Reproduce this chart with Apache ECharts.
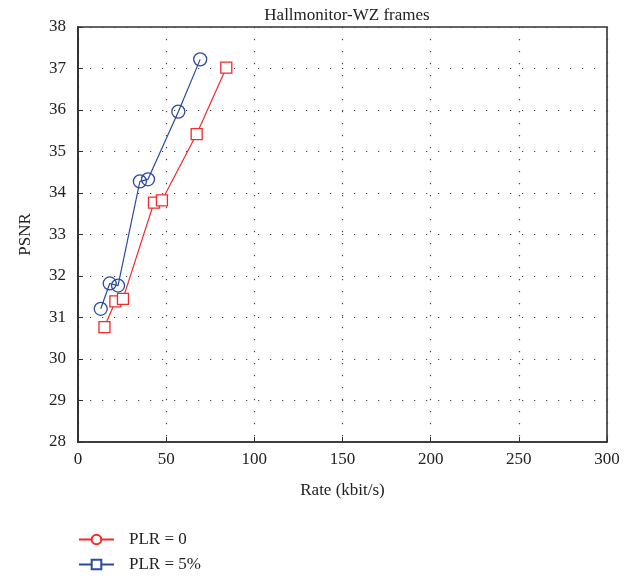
<!DOCTYPE html>
<html>
<head>
<meta charset="utf-8">
<script src="https://cdn.jsdelivr.net/npm/echarts@6/dist/echarts.min.js"></script>
<style>
  html, body { margin: 0; padding: 0; background: #fff; }
  #chart { width: 637px; height: 581px; }
</style>
</head>
<body>
<div id="chart"></div>
<script>
// Rate (kbit/s) vs PSNR for the Hallmonitor Wyner-Ziv frames
const rateLossless = [15.0, 21.2, 25.5, 43.1, 47.6, 67.3, 84.1];
const psnrLossless = [30.77, 31.39, 31.45, 33.77, 33.82, 35.42, 37.02];
const rateLoss5 = [12.9, 18.0, 22.7, 35.1, 39.7, 56.9, 69.3];
const psnrLoss5 = [31.21, 31.82, 31.77, 34.28, 34.33, 35.96, 37.22];
const legendNames = ['PLR = 0', 'PLR = 5%'];

const RED = '#f22a2a';
const BLUE = '#2d4a9e';
const FONT = '"Liberation Serif", "DejaVu Serif", serif';

const pairs = (xs, ys) => xs.map((x, i) => [x, ys[i]]);

const chart = echarts.init(document.getElementById('chart'), null, { renderer: 'canvas' });

const dotted = { color: '#444', width: 1.2, type: [1.2, 10.8] };

chart.setOption({
  backgroundColor: '#fff',
  animation: false,
  title: {
    text: 'Hallmonitor-WZ frames',
    left: 342,
    textAlign: 'center',
    top: 2,
    textStyle: { fontFamily: FONT, fontSize: 17, fontWeight: 'normal', color: '#222' }
  },
  grid: {
    left: 78, right: 30, top: 27, bottom: 139,
    show: true, borderColor: '#333', borderWidth: 1.6, backgroundColor: 'transparent'
  },
  legend: {
    orient: 'vertical',
    left: 78,
    top: 531,
    padding: 0,
    itemWidth: 35,
    itemHeight: 12,
    itemGap: 8,
    data: legendNames,
    textStyle: { fontFamily: FONT, fontSize: 17, color: '#222', padding: [0, 0, 0, 10] }
  },
  xAxis: {
    type: 'value',
    min: 0, max: 300, interval: 50,
    name: 'Rate (kbit/s)',
    nameLocation: 'middle',
    nameGap: 40,
    nameTextStyle: { fontFamily: FONT, fontSize: 17, color: '#222' },
    axisLine: { show: true, lineStyle: { color: '#333', width: 1.6 } },
    axisTick: { show: true, inside: true, length: 5, lineStyle: { color: '#333' } },
    axisLabel: { fontFamily: FONT, fontSize: 17, color: '#222', margin: 9 },
    splitLine: { show: true, lineStyle: dotted }
  },
  yAxis: {
    type: 'value',
    min: 28, max: 38, interval: 1,
    name: 'PSNR',
    nameLocation: 'middle',
    nameGap: 44,
    nameTextStyle: { fontFamily: FONT, fontSize: 17, color: '#222' },
    axisLine: { show: true, lineStyle: { color: '#333', width: 2 } },
    axisTick: { show: true, inside: true, length: 5, lineStyle: { color: '#333' } },
    axisLabel: { fontFamily: FONT, fontSize: 17, color: '#222', margin: 12 },
    splitLine: { show: true, lineStyle: dotted }
  },
  series: [
    {
      name: 'plr0-curve',
      type: 'line',
      data: pairs(rateLossless, psnrLossless),
      symbol: 'rect',
      symbolSize: 11,
      showAllSymbol: true,
      lineStyle: { color: RED, width: 1.2 },
      itemStyle: { color: '#fff', borderColor: RED, borderWidth: 1.3 },
      z: 3
    },
    {
      name: 'plr5-curve',
      type: 'line',
      data: pairs(rateLoss5, psnrLoss5),
      symbol: 'circle',
      symbolSize: 13,
      showAllSymbol: true,
      lineStyle: { color: BLUE, width: 1.2 },
      itemStyle: { color: 'transparent', borderColor: BLUE, borderWidth: 1.3 },
      z: 3
    },
    // legend entries
    {
      name: legendNames[0],
      type: 'line',
      data: [],
      symbol: 'circle',
      symbolSize: 10,
      lineStyle: { color: RED, width: 1.2 },
      itemStyle: { color: '#fff', borderColor: RED, borderWidth: 1.3 }
    },
    {
      name: legendNames[1],
      type: 'line',
      data: [],
      symbol: 'rect',
      symbolSize: 9,
      lineStyle: { color: BLUE, width: 1.2 },
      itemStyle: { color: '#fff', borderColor: BLUE, borderWidth: 1.3 }
    }
  ]
});
</script>
</body>
</html>
